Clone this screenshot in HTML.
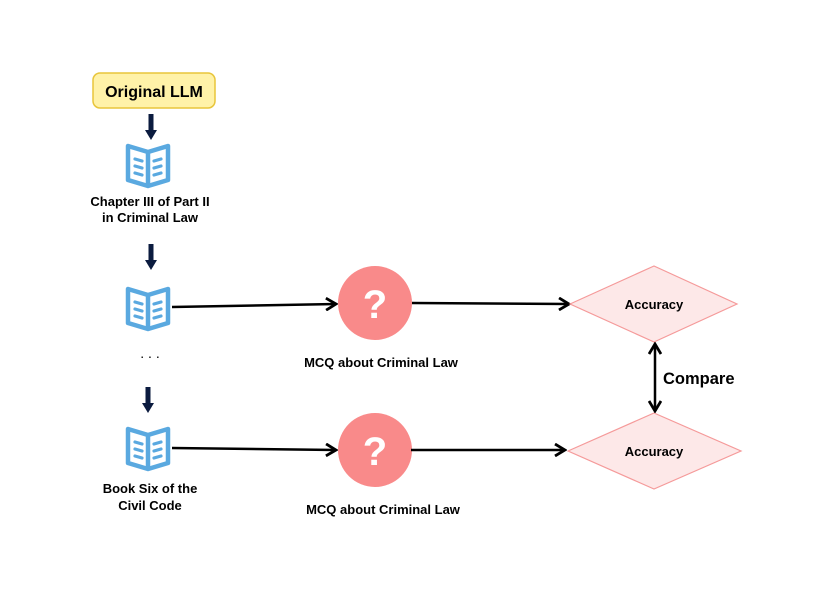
<!DOCTYPE html>
<html><head><style>
body{margin:0;background:#fff;}
svg{display:block;font-family:"Liberation Sans",Arial,sans-serif;font-weight:bold;}
</style></head><body>
<svg width="830" height="614" viewBox="0 0 830 614" xmlns="http://www.w3.org/2000/svg">
<defs>
<marker id="ah" markerWidth="14" markerHeight="14" refX="12" refY="7" orient="auto" markerUnits="userSpaceOnUse">
<path d="M2,1 L12,7 L2,13" fill="none" stroke="#000" stroke-width="2.8"/>
</marker>
<marker id="ahs" markerWidth="14" markerHeight="14" refX="12" refY="7" orient="auto-start-reverse" markerUnits="userSpaceOnUse">
<path d="M2,1 L12,7 L2,13" fill="none" stroke="#000" stroke-width="2.8"/>
</marker>
<g id="book">
<path d="M2,5 L22,11 L42,5 L42,39 L22,45 L2,39 Z" fill="#fff" stroke="#5aa9e0" stroke-width="4.5" stroke-linejoin="round"/>
<path d="M22,11 L22,45" stroke="#5aa9e0" stroke-width="4.5"/>
<path d="M9,18 L16,20 M9,25 L16,27 M9,32 L16,34 M28,20 L35,18 M28,27 L35,25 M28,34 L35,32" stroke="#5aa9e0" stroke-width="3.2" stroke-linecap="round"/>
</g>
<g id="dn">
<rect x="-2.5" y="0" width="5" height="18" fill="#0b1b3f"/>
<path d="M-6,16 L6,16 L0,26 Z" fill="#0b1b3f"/>
</g>
</defs>
<rect x="93" y="73" width="122" height="35" rx="7" fill="#fff2a8" stroke="#e8c53a" stroke-width="1.5"/>
<text x="154" y="97" font-size="16" text-anchor="middle">Original LLM</text>
<use href="#dn" x="151" y="114"/>
<use href="#book" x="126" y="141"/>
<text x="150" y="206" font-size="13" text-anchor="middle">Chapter III of Part II</text>
<text x="150" y="222" font-size="13" text-anchor="middle">in Criminal Law</text>
<use href="#dn" x="151" y="244"/>
<use href="#book" x="126" y="284"/>
<text x="150" y="358" font-size="14" text-anchor="middle" font-weight="normal" fill="#000">. . .</text>
<use href="#dn" x="148" y="387"/>
<use href="#book" x="126" y="424"/>
<text x="150" y="493" font-size="13" text-anchor="middle">Book Six of the</text>
<text x="150" y="510" font-size="13" text-anchor="middle">Civil Code</text>

<line x1="172" y1="307" x2="336" y2="304" stroke="#000" stroke-width="2.5" marker-end="url(#ah)"/>
<line x1="172" y1="448" x2="336" y2="450" stroke="#000" stroke-width="2.5" marker-end="url(#ah)"/>
<circle cx="375" cy="303" r="37" fill="#f98a8a"/>
<text x="375" y="318" font-size="40" fill="#fff" text-anchor="middle">?</text>
<circle cx="375" cy="450" r="37" fill="#f98a8a"/>
<text x="375" y="465" font-size="40" fill="#fff" text-anchor="middle">?</text>
<text x="381" y="367" font-size="13" text-anchor="middle">MCQ about Criminal Law</text>
<text x="383" y="514" font-size="13" text-anchor="middle">MCQ about Criminal Law</text>

<line x1="412" y1="303" x2="569" y2="304" stroke="#000" stroke-width="2.5" marker-end="url(#ah)"/>
<line x1="411" y1="450" x2="565" y2="450" stroke="#000" stroke-width="2.5" marker-end="url(#ah)"/>
<polygon points="570,304 654,266 737,304 654,342" fill="#fde8e8" stroke="#f59a9a" stroke-width="1.2"/>
<polygon points="568,451 654,413 741,451 654,489" fill="#fde8e8" stroke="#f59a9a" stroke-width="1.2"/>
<text x="654" y="309" font-size="13" text-anchor="middle">Accuracy</text>
<text x="654" y="456" font-size="13" text-anchor="middle">Accuracy</text>
<line x1="655" y1="344" x2="655" y2="411" stroke="#000" stroke-width="2.5" marker-start="url(#ahs)" marker-end="url(#ah)"/>
<text x="663" y="384" font-size="16.5">Compare</text>
</svg>
</body></html>
